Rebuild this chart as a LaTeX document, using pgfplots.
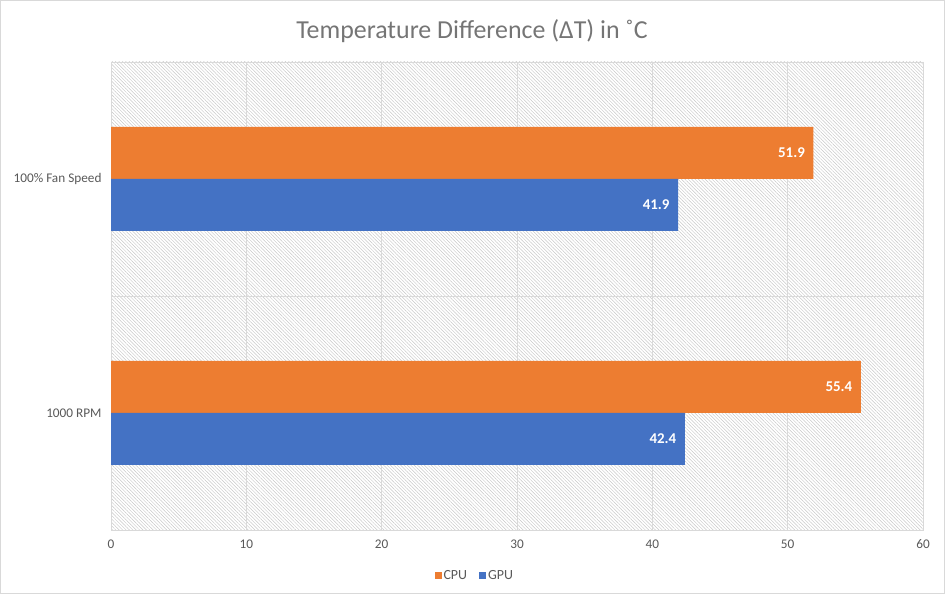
\documentclass[border=0pt]{standalone}
\usepackage{pgfplots}
\pgfplotsset{compat=1.18}
\usepackage{fontspec}
\setmainfont{Carlito}
\usetikzlibrary{patterns.meta}
\definecolor{cpu}{HTML}{ED7D31}
\definecolor{gpu}{HTML}{4472C4}
\definecolor{txt}{HTML}{595959}
\definecolor{ttl}{HTML}{757575}
\definecolor{grd}{HTML}{D9D9D9}
\definecolor{hatch}{HTML}{C8C8C8}
\begin{document}
\begin{tikzpicture}[x=1bp,y=1bp]
\useasboundingbox (0,0) rectangle (945,594);
\draw[grd, line width=1bp] (0.5,0.5) rectangle (944.5,593.5);
\node[text=ttl, font=\fontsize{26}{30}\selectfont] at (472,563) {Temperature Difference (ΔT) in ˚C};
\begin{axis}[
  at={(111bp,64bp)}, anchor=south west,
  scale only axis, width=812bp, height=468bp,
  xmin=0, xmax=60, ymin=-0.5, ymax=1.5,
  xtick={0,10,...,60},
  ytick={0,1}, yticklabels={1000 RPM,100\% Fan Speed},
  major tick length=0pt,
  xmajorgrids, major grid style={grd, line width=0.8bp},
  extra y ticks={0.5}, extra y tick labels={},
  extra y tick style={grid=major, major grid style={grd, line width=0.8bp}},
  axis line style={grd, line width=0.8bp},
  axis background/.style={preaction={fill=white}, pattern={Lines[angle=-45,distance=2.4bp,line width=0.45bp]}, pattern color=hatch},
  ticklabel style={text=txt, font=\fontsize{13.3}{15}\selectfont},
  xticklabel style={yshift=-6bp},
  yticklabel style={xshift=-6bp},
  /pgf/number format/assume math mode=true,
  xbar, bar width=52bp,
  nodes near coords={\pgfmathprintnumber[fixed,precision=1,fixed zerofill]{\pgfplotspointmeta}},
  every node near coord/.append style={anchor=east, xshift=-5bp, text=white, font=\fontsize{15}{17}\selectfont\bfseries},
  legend style={at={(0.448,-0.078)}, anchor=north, legend columns=2, draw=none, fill=none,
    font=\fontsize{14}{16}\selectfont, text=txt,
    /tikz/every even column/.append style={column sep=10bp}},
  legend image code/.code={\fill[#1] (0bp,-3.5bp) rectangle (7bp,3.5bp);},
]
\addplot[fill=cpu, draw=none, bar shift=26bp] coordinates {(55.4,0) (51.9,1)};
\addplot[fill=gpu, draw=none, bar shift=-26bp] coordinates {(42.4,0) (41.9,1)};
\legend{CPU,GPU}
\end{axis}
\end{tikzpicture}
\end{document}
